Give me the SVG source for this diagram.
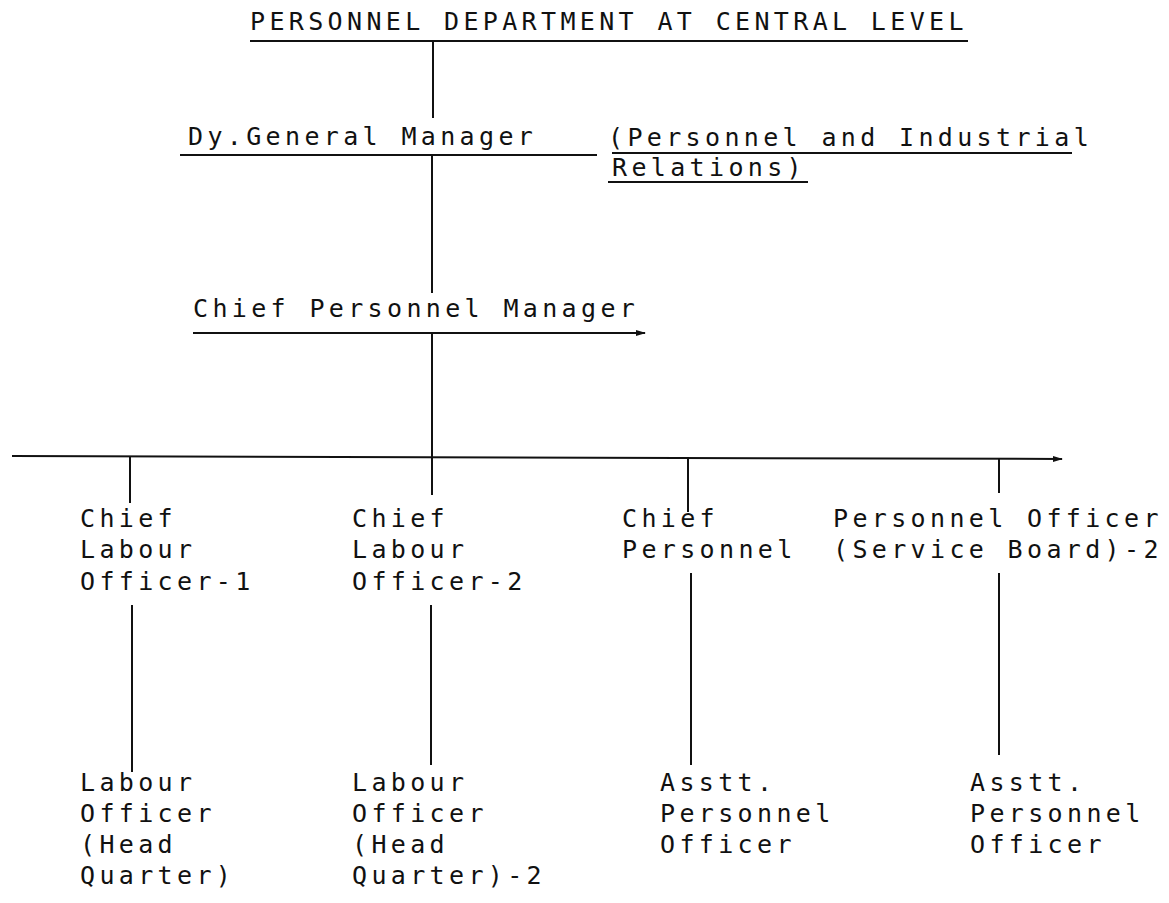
<svg xmlns="http://www.w3.org/2000/svg" width="1169" height="903" viewBox="0 0 1169 903">
<defs>
<style>
text{font-family:"DejaVu Sans Mono","Liberation Mono",monospace;font-size:25px;letter-spacing:4.35px;fill:#111}
.ln{stroke:#111;stroke-width:2;fill:none}
</style>
<marker id="ah" viewBox="0 0 10 10" refX="9" refY="5" markerWidth="5" markerHeight="5" orient="auto"><path d="M0,2 L10,5 L0,8 z" fill="#111"/></marker>
</defs>
<rect width="1169" height="903" fill="#fff"/>
<g id="connectors">
<line class="ln" x1="250" y1="41" x2="968" y2="41"/>
<line class="ln" x1="433" y1="41" x2="433" y2="118"/>
<line class="ln" x1="180" y1="155" x2="597" y2="155"/>
<line class="ln" x1="612" y1="153" x2="1072" y2="153"/>
<line class="ln" x1="608" y1="182" x2="808" y2="182"/>
<line class="ln" x1="432" y1="155" x2="432" y2="293"/>
<line class="ln" x1="193" y1="333" x2="645" y2="333" marker-end="url(#ah)"/>
<line class="ln" x1="432" y1="333" x2="432" y2="457"/>
<line class="ln" x1="12" y1="456" x2="1062" y2="459" marker-end="url(#ah)"/>
<line class="ln" x1="130" y1="457" x2="130" y2="503"/>
<line class="ln" x1="432" y1="457" x2="432" y2="495"/>
<line class="ln" x1="688" y1="458" x2="688" y2="512"/>
<line class="ln" x1="999" y1="459" x2="999" y2="493"/>
<line class="ln" x1="132" y1="605" x2="132" y2="772"/>
<line class="ln" x1="431" y1="605" x2="431" y2="765"/>
<line class="ln" x1="691" y1="573" x2="691" y2="765"/>
<line class="ln" x1="999" y1="573" x2="999" y2="755"/>
</g>
<g id="n-title"><text x="250" y="30">PERSONNEL DEPARTMENT AT CENTRAL LEVEL</text></g>
<g id="n-dgm">
<text x="188" y="145">Dy.General Manager</text>
<text x="608" y="146">(Personnel and Industrial</text>
<text x="612" y="176">Relations)</text>
</g>
<g id="n-cpm"><text x="193" y="317">Chief Personnel Manager</text></g>
<g id="n-clo1"><text x="80" y="527">Chief</text><text x="80" y="558">Labour</text><text x="80" y="590">Officer-1</text></g>
<g id="n-clo2"><text x="352" y="527">Chief</text><text x="352" y="558">Labour</text><text x="352" y="590">Officer-2</text></g>
<g id="n-cp"><text x="622" y="527">Chief</text><text x="622" y="558">Personnel</text></g>
<g id="n-po"><text x="833" y="527">Personnel Officer</text><text x="833" y="558">(Service Board)-2</text></g>
<g id="n-lo1"><text x="80" y="791">Labour</text><text x="80" y="822">Officer</text><text x="80" y="853">(Head</text><text x="80" y="884">Quarter)</text></g>
<g id="n-lo2"><text x="352" y="791">Labour</text><text x="352" y="822">Officer</text><text x="352" y="853">(Head</text><text x="352" y="884">Quarter)-2</text></g>
<g id="n-apo1"><text x="660" y="791">Asstt.</text><text x="660" y="822">Personnel</text><text x="660" y="853">Officer</text></g>
<g id="n-apo2"><text x="970" y="791">Asstt.</text><text x="970" y="822">Personnel</text><text x="970" y="853">Officer</text></g>
</svg>
